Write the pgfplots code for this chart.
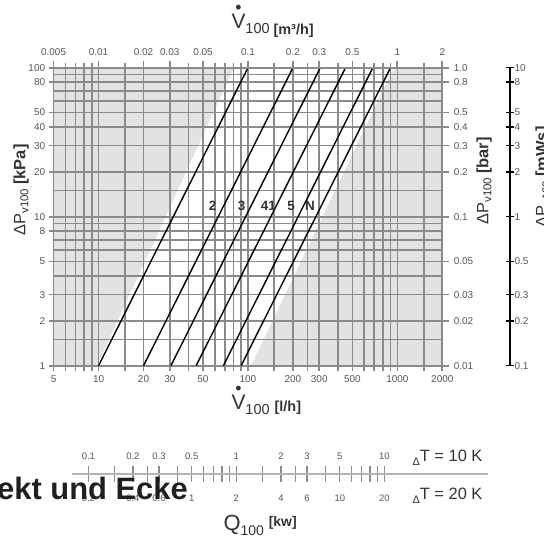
\documentclass[border=0pt]{standalone}
\usepackage{fontspec}
\setmainfont{Liberation Sans}
\usepackage{pgfplots}
\pgfplotsset{compat=1.18}
\definecolor{gridc}{HTML}{8A8A8A}
\definecolor{shade}{HTML}{E2E2E2}
\definecolor{lab}{HTML}{555555}
\definecolor{ttl}{HTML}{333333}
\definecolor{qline}{HTML}{B4B4B4}
\definecolor{qtick}{HTML}{8C8C8C}
\newcommand{\Vdot}{\ooalign{V\cr\hidewidth\raisebox{0.72em}{\scalebox{0.85}{\textbullet}}\hidewidth\cr}}
\newcommand{\tl}{\fontsize{10}{11}\selectfont}
\newcommand{\ql}{\fontsize{9.5}{10}\selectfont}
\begin{document}
\begin{tikzpicture}[x=1bp,y=1bp]
\useasboundingbox (0,0) rectangle (544,539);
\clip (0,0) rectangle (544,539);
% shaded regions
\begin{axis}[at={(53.6bp,173.3bp)}, anchor=south west, scale only axis,
  width=388.7bp, height=298bp, xmode=log, ymode=log,
  xmin=5, xmax=2000, ymin=1, ymax=100, hide axis]
\addplot[fill=shade, draw=none] coordinates {(5,1) (9.75,1) (80.7,100) (5,100) (5,1)};
\addplot[fill=shade, draw=none] coordinates {(105,1) (2000,1) (2000,100) (946,100) (105,1)};
\end{axis}
% grid, lines, bottom/left labels
\begin{axis}[at={(53.6bp,173.3bp)}, anchor=south west, scale only axis,
  width=388.7bp, height=298bp, xmode=log, ymode=log,
  xmin=5, xmax=2000, ymin=1, ymax=100,
  axis line style={draw=gridc, line width=1.7bp},
  xtick={5,10,20,30,50,100,200,300,500,1000,2000},
  xticklabels={5,10,20,30,50,100,200,300,500,1000,2000},
  minor xtick={6,7,8,9,15,40,60,70,80,90,150,250,400,600,700,800,900,1500},
  ytick={1,2,3,5,8,10,20,30,40,50,80,100},
  yticklabels={1,2,3,5,8,10,20,30,40,50,80,100},
  minor ytick={1.5,4,6,7,9,15,60,70,90},
  ytick pos=left,
  grid=both,
  major grid style={draw=gridc, line width=1.7bp},
  minor grid style={draw=gridc, line width=1.7bp},
  tick align=outside, major tick length=5bp, minor tick length=5bp,
  tick style={draw=gridc, line width=1.7bp},
  minor y tick style={draw=none},
  xticklabel style={font=\tl, text=lab, yshift=-1bp},
  yticklabel style={font=\tl, text=lab},
]
\addplot[black, line width=1.4bp] coordinates {(10,1) (100,100)};
\addplot[black, line width=1.4bp] coordinates {(20,1) (200,100)};
\addplot[black, line width=1.4bp] coordinates {(30.5,1) (305,100)};
\addplot[black, line width=1.4bp] coordinates {(45,1) (450,100)};
\addplot[black, line width=1.4bp] coordinates {(68.5,1) (685,100)};
\addplot[black, line width=1.4bp] coordinates {(90,1) (900,100)};
\end{axis}
% top and right labels
\begin{axis}[at={(53.6bp,173.3bp)}, anchor=south west, scale only axis,
  width=388.7bp, height=298bp, xmode=log, ymode=log,
  xmin=0.005, xmax=2, ymin=0.01, ymax=1,
  axis x line*=top, axis y line*=right,
  axis line style={draw=gridc, line width=1.7bp, -},
  xtick={0.005,0.01,0.02,0.03,0.05,0.1,0.2,0.3,0.5,1,2},
  xticklabels={0.005,0.01,0.02,0.03,0.05,0.1,0.2,0.3,0.5,1,2},
  ytick={0.01,0.02,0.03,0.05,0.1,0.2,0.3,0.4,0.5,0.8,1},
  yticklabels={0.01,0.02,0.03,0.05,0.1,0.2,0.3,0.4,0.5,0.8,1.0},
  minor tick length=0bp, tick align=outside, major tick length=7bp,
  tick style={draw=gridc, line width=1.7bp},
  xticklabel style={font=\tl, text=lab, yshift=2bp},
  yticklabel style={font=\tl, text=lab, xshift=1bp},
]
\end{axis}
% mWs scale
\begin{axis}[at={(510bp,173.3bp)}, anchor=south east, scale only axis, width=1bp, height=298bp,
  ymode=log, ymin=0.1, ymax=10, xmin=0, xmax=1,
  hide x axis, axis y line*=right,
  axis line style={draw=black, line width=2.2bp, -},
  ytick={0.1,0.2,0.3,0.5,1,2,3,4,5,8,10},
  yticklabels={0.1,0.2,0.3,0.5,1,2,3,4,5,8,10},
  minor tick length=0bp, tick align=center, major tick length=8bp,
  tick style={draw=black, line width=1.4bp},
  yticklabel style={font=\tl, text=lab, xshift=-3bp},
]
\end{axis}
% Q scale (Delta T = 10 K labels above)
\begin{axis}[at={(71.7bp,64.7bp)}, anchor=north west, scale only axis, width=416.6bp, height=1bp,
  xmode=log, xmin=0.0772, xmax=50.4, ymin=0, ymax=1,
  axis x line*=top, hide y axis,
  axis line style={draw=qline, line width=1.8bp, -},
  xtick={0.1,0.15,0.2,0.25,0.3,0.4,0.5,0.6,0.7,0.8,0.9,1,1.5,2,2.5,3,4,5,6,7,8,9,10},
  xticklabels={0.1,,0.2,,0.3,,0.5,,,,,1,,2,,3,,5,,,,,10},
  minor tick length=0bp, tick align=center, major tick length=15.6bp,
  tick style={draw=qtick, line width=1.4bp},
  xticklabel style={font=\ql, text=lab, yshift=3bp},
]
\end{axis}
% Q scale (Delta T = 20 K labels below)
\begin{axis}[at={(71.7bp,64.7bp)}, anchor=south west, scale only axis, width=416.6bp, height=1bp,
  xmode=log, xmin=0.0772, xmax=50.4, ymin=0, ymax=1,
  axis x line*=bottom, hide y axis,
  axis line style={draw=none},
  xtick={0.1,0.15,0.2,0.25,0.3,0.4,0.5,0.6,0.7,0.8,0.9,1,1.5,2,2.5,3,4,5,6,7,8,9,10},
  xticklabels={0.2,,0.4,,0.6,,1,,,,,2,,4,,6,,10,,,,,20},
  minor tick length=0bp, major tick length=0bp,
  tick style={draw=none},
  xticklabel style={font=\ql, text=lab, yshift=-17bp},
]
\end{axis}
% line labels
\begin{scope}[font=\bfseries\fontsize{13.5}{14}\selectfont, text=ttl]
\node at (212.7,333.3) {2};
\node at (241.7,333.3) {3};
\node at (268.3,333.3) {41};
\node at (291,333.3) {5};
\node at (310,333.3) {N};
\end{scope}
% axis titles
\node[text=ttl, anchor=base west] at (228,510) {\fontsize{21}{21}\selectfont\Vdot\raisebox{-5bp}{\fontsize{14.5}{14.5}\selectfont 100}\hspace{4bp}\raisebox{-6bp}{\bfseries\fontsize{14.5}{14.5}\selectfont [m³/h]}};
\node[text=ttl, anchor=base west] at (228,129) {\fontsize{21}{21}\selectfont\Vdot\raisebox{-5bp}{\fontsize{14.5}{14.5}\selectfont 100}\hspace{5bp}\raisebox{-2bp}{\bfseries\fontsize{14.5}{14.5}\selectfont [l/h]}};
\node[text=ttl, rotate=90] at (21,349) {\fontsize{16.5}{16.5}\selectfont ΔP\raisebox{-3bp}{\fontsize{11.5}{11.5}\selectfont v100}\hspace{4bp}{\bfseries [kPa]}};
\node[text=ttl, rotate=90] at (484,358) {\fontsize{16.5}{16.5}\selectfont ΔP\raisebox{-3bp}{\fontsize{11.5}{11.5}\selectfont v100}\hspace{4bp}{\bfseries [bar]}};
\node[text=ttl, rotate=90] at (543,362) {\fontsize{16.5}{16.5}\selectfont ΔP\raisebox{-3bp}{\fontsize{11.5}{11.5}\selectfont v100}\hspace{4bp}{\bfseries [mWs]}};
% Q titles
\node[text=ttl, anchor=base west] at (220,8) {\fontsize{22}{22}\selectfont Q\raisebox{-5bp}{\fontsize{14}{14}\selectfont 100}\hspace{5bp}\raisebox{4bp}{\bfseries\fontsize{14}{14}\selectfont [kw]}};
\node[text=ttl, anchor=base west] at (409,77) {\fontsize{16.5}{16.5}\selectfont\raisebox{-4bp}{\fontsize{11}{11}\selectfont Δ}T = 10 K};
\node[text=ttl, anchor=base west] at (409,39) {\fontsize{16.5}{16.5}\selectfont\raisebox{-4bp}{\fontsize{11}{11}\selectfont Δ}T = 20 K};
% overlapping heading fragment
\node[text=black!88, anchor=base west, inner sep=0pt] at (-3,39) {\bfseries\fontsize{31}{31}\selectfont ekt und Ecke};
\end{tikzpicture}
\end{document}
